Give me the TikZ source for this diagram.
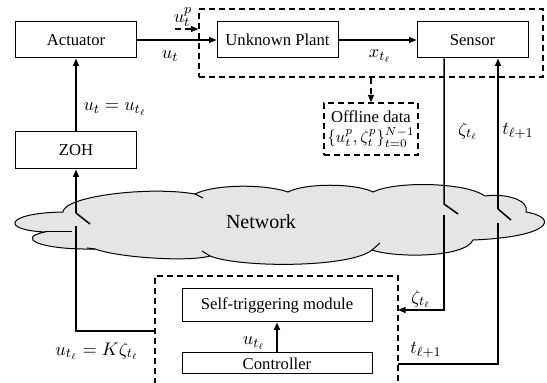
\documentclass[tikz,border=0pt]{standalone}
\usepackage{fontspec}
\setmainfont{Liberation Serif}
\usetikzlibrary{arrows.meta}
\definecolor{cloudgray}{gray}{0.9}
\tikzset{
  block/.style={draw, line width=0.6pt, minimum height=21.6pt, inner sep=1pt},
  grpbox/.style={draw, line width=0.8pt, dash pattern=on 3.6pt off 2.4pt},
  sig/.style={line width=0.9pt},
  lbl/.style={font=\fontsize{11}{13}\selectfont, inner sep=1pt},
  >={Triangle[length=4.5pt,width=3.6pt]},
}
\begin{document}
\begin{tikzpicture}[x=0.6pt,y=-0.6pt]
\useasboundingbox (0,0) rectangle (547,383);

\draw[line width=0.6pt, fill=cloudgray]
 (63,212) .. controls (64,196) and (150,186) .. (195,194)
 .. controls (215,184) and (265,184) .. (288,192)
 .. controls (305,183) and (355,183) .. (373,192)
 .. controls (395,181) and (465,182) .. (485,196)
 .. controls (505,193) and (530,200) .. (526,212)
 .. controls (560,218) and (550,237) .. (473,240)
 .. controls (465,258) and (395,258) .. (372,250)
 .. controls (350,268) and (240,268) .. (210,256)
 .. controls (190,262) and (120,258) .. (95,249)
 .. controls (40,250) and (15,238) .. (45,232)
 .. controls (0,230) and (5,213) .. (63,212) -- cycle;
\draw[line width=0.6pt] (195,194) -- (203,198);
\draw[line width=0.6pt] (372,250) -- (380,243);
\draw[line width=0.6pt] (45,232) -- (72,232);
\draw[line width=0.6pt] (95,249) -- (87,248);
\draw[line width=0.6pt] (210,256) -- (202,251);
\node[font=\large] (net) at (261,222) {Network};

\node[block, minimum width=73.2pt] (act) at (76,40) {Actuator};
\node[block, minimum width=72.6pt] (plant) at (277.5,40) {Unknown Plant};
\node[block, minimum width=66.6pt] (sensor) at (472.5,40) {Sensor};
\node[block, minimum width=73.2pt, minimum height=22.2pt] (zoh) at (76,150.5) {ZOH};
\node[grpbox, minimum width=206.4pt, minimum height=40.8pt] (plantgrp) at (371,43) {};
\node[grpbox, minimum width=56.4pt, minimum height=31.2pt, inner sep=0.5pt, align=center] (offline) at (371,129) {Offline data\\$\{u_t^p,\zeta_t^p\}_{t=0}^{N-1}$};
\node[block, minimum width=114pt, minimum height=19.8pt] (stm) at (277,305.5) {Self-triggering module};
\node[block, minimum width=114pt, minimum height=12.6pt, inner sep=0pt] (ctrl) at (277,363.5) {Controller};
\draw[grpbox] (155,384) |- (398,276) -- (398,384);

\coordinate (upin) at (175,29);
\coordinate (ctlw) at (155,331);
\coordinate (zin) at (398,310);
\coordinate (tout) at (398,364);
\coordinate (swl) at (76,213);
\coordinate (swlb) at (76,226);
\coordinate (swz) at (444,204);
\coordinate (swzb) at (444,215);
\coordinate (swt) at (498,209);
\coordinate (swtb) at (498,223);

\draw[->, sig] (act) -- (plant);
\draw[->, sig] (plant) -- (sensor);
\draw[->, sig, dash pattern=on 3.6pt off 2.4pt] (upin) -- (upin -| plantgrp.west);
\draw[->, sig, dash pattern=on 3.6pt off 2.4pt] (plantgrp.south) -- (offline.north);
\draw[->, sig] (zoh) -- (act);
\draw[->, sig] (swl) -- (zoh);
\draw[sig] (swl) -- ++(14,11);
\draw[sig] (ctlw) -| (swlb);
\draw[sig] (sensor.south -| swz) -- (swz) -- ++(14,10);
\draw[->, sig] (swzb) |- (zin);
\draw[->, sig] (swt) -- (sensor.south -| swt);
\draw[sig] (swt) -- ++(13,11);
\draw[sig] (tout) -| (swtb);
\draw[->, sig] (ctrl) -- (stm);

\node[lbl] (lupt) at (183,17) {$u_t^p$};
\node[lbl] (lut) at (170,56) {$u_t$};
\node[lbl] (lxt) at (380,56) {$x_{t_\ell}$};
\node[lbl] (luzoh) at (115,109) {$u_t=u_{t_\ell}$};
\node[lbl] (lzs) at (468,131) {$\zeta_{t_\ell}$};
\node[lbl] (lts) at (518,131) {$t_{\ell+1}$};
\node[lbl] (luk) at (97,351) {$u_{t_\ell}=K\zeta_{t_\ell}$};
\node[lbl] (luc) at (254,343) {$u_{t_\ell}$};
\node[lbl] (lzc) at (421,299) {$\zeta_{t_\ell}$};
\node[lbl] (ltc) at (426,350) {$t_{\ell+1}$};
\end{tikzpicture}
\end{document}
